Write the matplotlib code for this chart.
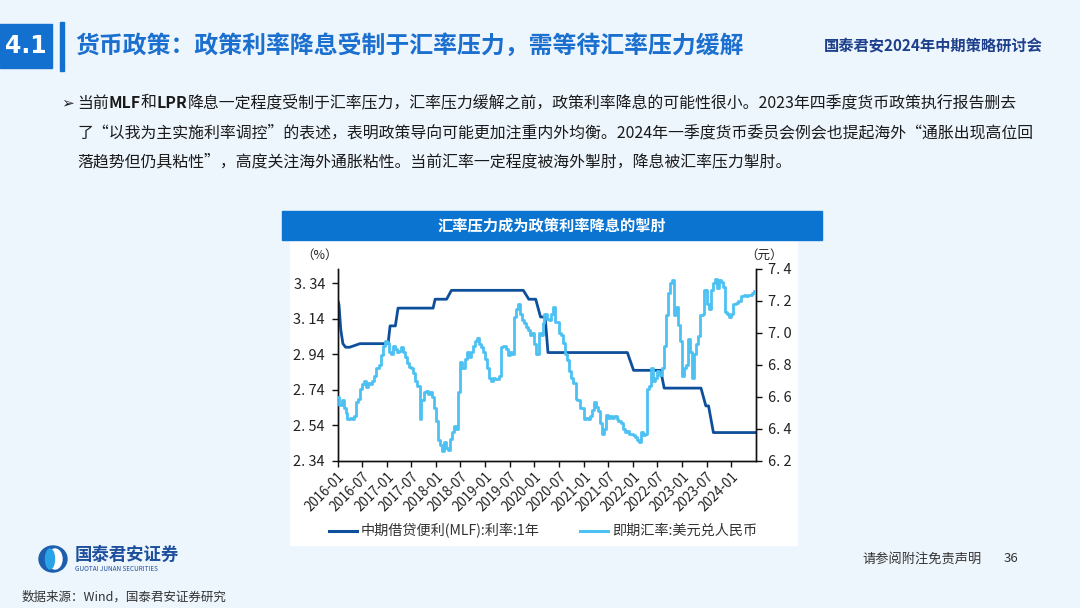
import matplotlib
matplotlib.use("Agg")
import matplotlib.pyplot as plt
from matplotlib.patches import Rectangle, Ellipse
import pandas as pd

plt.rcParams['font.family'] = ['Noto Sans CJK SC', 'DejaVu Sans']

# ---- data ----
# MLF 1Y rate (%), breakpoints of the line
mlf_dates = ["2016-01-01", "2016-01-12", "2016-01-25", "2016-02-10", "2016-03-01",
             "2016-04-01", "2016-06-15", "2017-01-10", "2017-01-25", "2017-03-05",
             "2017-03-25", "2017-12-10", "2017-12-25", "2018-03-20", "2018-04-25",
             "2019-10-10", "2019-11-20", "2020-01-10", "2020-02-15", "2020-03-20",
             "2020-04-10", "2021-11-20", "2022-01-05", "2022-07-25", "2022-08-20",
             "2023-05-20", "2023-06-25", "2023-07-15", "2023-08-20", "2024-06-28"]
mlf_values = [3.25, 3.22, 3.08, 3.00, 2.98,
              2.98, 3.00, 3.00, 3.10, 3.10,
              3.20, 3.20, 3.25, 3.25, 3.30,
              3.30, 3.25, 3.25, 3.15, 3.15,
              2.95, 2.95, 2.85, 2.85, 2.75,
              2.75, 2.65, 2.65, 2.50, 2.50]

# USD/CNY spot, two readings per month (1st and 15th)
fx_2016 = [6.60, 6.55, 6.58, 6.53, 6.50, 6.46, 6.47, 6.46, 6.48, 6.57, 6.59, 6.65,
           6.68, 6.70, 6.66, 6.69, 6.68, 6.70, 6.73, 6.78, 6.80, 6.86, 6.92, 6.95]
fx_2017 = [6.94, 6.88, 6.87, 6.92, 6.90, 6.88, 6.89, 6.91, 6.88, 6.85, 6.81, 6.79,
           6.78, 6.75, 6.70, 6.67, 6.46, 6.58, 6.63, 6.64, 6.62, 6.63, 6.60, 6.53]
fx_2018 = [6.45, 6.33, 6.30, 6.26, 6.32, 6.28, 6.27, 6.34, 6.38, 6.42, 6.40, 6.63,
           6.82, 6.78, 6.84, 6.88, 6.85, 6.88, 6.92, 6.95, 6.97, 6.93, 6.91, 6.88]
fx_2019 = [6.84, 6.78, 6.72, 6.70, 6.72, 6.71, 6.71, 6.73, 6.91, 6.92, 6.90, 6.86,
           6.88, 6.87, 7.10, 7.15, 7.18, 7.12, 7.08, 7.06, 7.04, 7.02, 6.99, 7.00]
fx_2020 = [6.93, 6.87, 7.00, 6.99, 7.06, 7.12, 7.09, 7.08, 7.12, 7.16, 7.07, 7.07,
           7.00, 6.99, 6.94, 6.87, 6.83, 6.76, 6.72, 6.69, 6.59, 6.58, 6.53, 6.53]
fx_2021 = [6.46, 6.47, 6.46, 6.48, 6.52, 6.57, 6.54, 6.51, 6.44, 6.37, 6.40, 6.49,
           6.47, 6.48, 6.47, 6.48, 6.46, 6.45, 6.44, 6.40, 6.38, 6.39, 6.37, 6.37]
fx_2022 = [6.36, 6.35, 6.33, 6.32, 6.38, 6.36, 6.37, 6.65, 6.67, 6.78, 6.70, 6.72,
           6.76, 6.74, 6.78, 6.92, 7.11, 7.25, 7.31, 7.33, 7.11, 7.16, 7.05, 6.95]
fx_2023 = [6.73, 6.78, 6.80, 6.96, 6.88, 6.72, 6.87, 6.93, 6.98, 7.11, 7.12, 7.27,
           7.18, 7.15, 7.27, 7.31, 7.34, 7.28, 7.33, 7.32, 7.29, 7.13, 7.12, 7.10]
fx_2024 = [7.12, 7.18, 7.19, 7.20, 7.20, 7.23, 7.24, 7.23, 7.24, 7.24, 7.25, 7.26]
fx_values = fx_2016 + fx_2017 + fx_2018 + fx_2019 + fx_2020 + fx_2021 + fx_2022 + fx_2023 + fx_2024
fx_dates = pd.date_range("2016-01-01", periods=len(fx_values), freq="SMS")

left_ticks = [2.34, 2.54, 2.74, 2.94, 3.14, 3.34]
right_ticks = [6.2, 6.4, 6.6, 6.8, 7.0, 7.2, 7.4]
x_ticks = pd.date_range("2016-01-01", "2024-01-01", freq="6MS")

mlf_label = "中期借贷便利(MLF):利率:1年"
fx_label = "即期汇率:美元兑人民币"

dark_blue = "#0e4f9b"
light_blue = "#4cc1f2"
bar_blue = "#0b74d0"

W, H = 1080, 608


def fx(x):
    return x / W


def fy(y):
    return 1 - y / H


fig = plt.figure(figsize=(10.8, 6.08), dpi=100)
fig.patch.set_facecolor("#edf5fd")

# white chart panel and title bar
fig.patches.append(Rectangle((fx(290), fy(545)), fx(797) - fx(290), fy(240) - fy(545),
                             transform=fig.transFigure, color="white", zorder=-2))
fig.patches.append(Rectangle((fx(282), fy(240)), fx(822) - fx(282), fy(211) - fy(240),
                             transform=fig.transFigure, color=bar_blue, zorder=-1))
fig.text(fx(552), fy(225.5), "汇率压力成为政策利率降息的掣肘", color="white",
         fontsize=11, fontweight="bold", ha="center", va="center")

# header
fig.patches.append(Rectangle((0, fy(68)), fx(52), fy(24) - fy(68),
                             transform=fig.transFigure, color="#1470cf", zorder=-1))
fig.text(fx(26), fy(46), "4.1", color="white", fontsize=17, fontweight="bold",
         ha="center", va="center", family="DejaVu Sans")
fig.patches.append(Rectangle((fx(60), fy(71)), fx(3.5), fy(22) - fy(71),
                             transform=fig.transFigure, color="#1470cf", zorder=-1))
fig.text(fx(75), fy(46), "货币政策：政策利率降息受制于汇率压力，需等待汇率压力缓解",
         color="#1a6fcf", fontsize=17.2, fontweight="bold", ha="left", va="center")
fig.text(fx(1043), fy(46), "国泰君安2024年中期策略研讨会", color="#1d3f8c",
         fontsize=11, fontweight="bold", ha="right", va="center")

# body text
fig.text(fx(61), fy(103), "➢", fontsize=11, ha="left", va="center", family="DejaVu Sans",
         color="#222222")
renderer = fig.canvas.get_renderer()


def draw_pieces(x, y, pieces):
    for txt, weight in pieces:
        t = fig.text(fx(x), fy(y), txt, fontsize=11.45, fontweight=weight,
                     ha="left", va="center", color="#1a1a1a")
        bb = t.get_window_extent(renderer=renderer)
        x += bb.width


draw_pieces(77, 103, [("当前", "normal"), ("MLF", "bold"), ("和", "normal"), ("LPR", "bold"),
                      ("降息一定程度受制于汇率压力，汇率压力缓解之前，政策利率降息的可能性很小。2023年四季度货币政策执行报告删去", "normal")])
draw_pieces(77, 133, [("了“以我为主实施利率调控”的表述，表明政策导向可能更加注重内外均衡。2024年一季度货币委员会例会也提起海外“通胀出现高位回", "normal")])
draw_pieces(77, 162, [("落趋势但仍具粘性”，高度关注海外通胀粘性。当前汇率一定程度被海外掣肘，降息被汇率压力掣肘。", "normal")])

# ---- chart ----
ax = fig.add_axes([fx(337.5), fy(461), fx(756) - fx(337.5), fy(269) - fy(461)])
ax.patch.set_alpha(0)
ax.plot(pd.to_datetime(mlf_dates), mlf_values, color=dark_blue, lw=2.0,
        solid_joinstyle="round", zorder=2)
ax.set_ylim(2.34, 3.42)
ax.set_yticks(left_ticks)
ax.set_yticklabels([f"{v:.2f}".replace(".", ". ") for v in left_ticks])
ax.set_xlim(pd.Timestamp("2016-01-01"), pd.Timestamp("2024-07-01"))
ax.set_xticks(x_ticks)
ax.set_xticklabels([d.strftime("%Y-%m") for d in x_ticks], rotation=45, ha="right",
                   rotation_mode="anchor")

ax2 = ax.twinx()
ax2.plot(fx_dates, fx_values, color=light_blue, lw=2.0, drawstyle="steps-post", zorder=3)
ax2.set_ylim(6.2, 7.4)
ax2.set_yticks(right_ticks)
ax2.set_yticklabels([f"{v:.1f}".replace(".", ". ") for v in right_ticks])

for a in (ax, ax2):
    a.spines["top"].set_visible(False)
    for s in ("left", "right", "bottom"):
        a.spines[s].set_linewidth(1.0)
        a.spines[s].set_color("#111111")
    a.tick_params(direction="out", length=4, width=1, colors="#111111",
                  labelsize=10.5, labelcolor="#222222")
ax.tick_params(axis="x", labelsize=9.6, pad=2)
ax.tick_params(axis="y", pad=5)
ax2.tick_params(axis="y", pad=5)

fig.text(fx(320), fy(255), "（%）", fontsize=9, ha="center", va="center", color="#222222")
fig.text(fx(764), fy(255), "（元）", fontsize=9, ha="center", va="center", color="#222222")

# legend
fig.add_artist(plt.Line2D([fx(329), fx(357)], [fy(530.5), fy(530.5)], color=dark_blue,
                          lw=2.2, transform=fig.transFigure))
fig.text(fx(361), fy(530.5), mlf_label, fontsize=10.2, ha="left", va="center", color="#333333")
fig.add_artist(plt.Line2D([fx(580), fx(608)], [fy(530.5), fy(530.5)], color=light_blue,
                          lw=2.2, transform=fig.transFigure))
fig.text(fx(612), fy(530.5), fx_label, fontsize=10.2, ha="left", va="center", color="#333333")

# footer
fig.patches.append(Ellipse((fx(53), fy(559)), fx(28), fy(546) - fy(572),
                           transform=fig.transFigure, color="#1d5fae", zorder=2))
fig.patches.append(Ellipse((fx(55), fy(559)), fx(14), fy(549) - fy(569),
                           transform=fig.transFigure, color="white", zorder=3))
fig.patches.append(Ellipse((fx(50), fy(559)), fx(9), fy(549) - fy(569),
                           transform=fig.transFigure, color="#29a3e6", zorder=4))
fig.text(fx(75), fy(555), "国泰君安证券", fontsize=12.5, fontweight="bold", color="#1d4f9c",
         ha="left", va="center")
fig.text(fx(75), fy(569), "GUOTAI JUNAN SECURITIES", fontsize=4.6, color="#1d4f9c",
         ha="left", va="center")
fig.text(fx(862), fy(559), "请参阅附注免责声明", fontsize=9.5, color="#333333",
         ha="left", va="center")
fig.text(fx(1004), fy(559), "36", fontsize=9.5, color="#333333", ha="left", va="center")
fig.text(fx(22), fy(597), "数据来源：Wind，国泰君安证券研究", fontsize=9, color="#333333",
         ha="left", va="center")

fig.savefig("out.png", dpi=100, facecolor=fig.get_facecolor())
